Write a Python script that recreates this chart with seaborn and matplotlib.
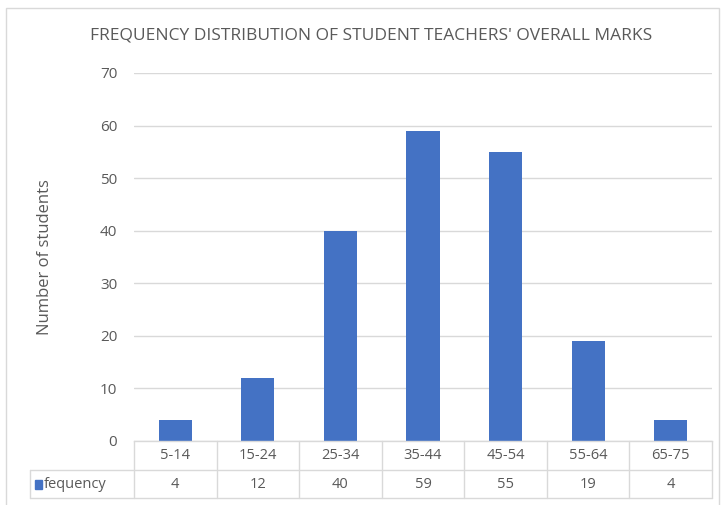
import matplotlib
matplotlib.use("Agg")
import matplotlib.pyplot as plt
import matplotlib.transforms as mtransforms
from matplotlib.patches import Rectangle
import seaborn as sns
import pandas as pd
from matplotlib import font_manager

categories = ["5-14", "15-24", "25-34", "35-44", "45-54", "55-64", "65-75"]
frequency = [4, 12, 40, 59, 55, 19, 4]
series_name = "fequency"
title = "FREQUENCY DISTRIBUTION OF STUDENT TEACHERS' OVERALL MARKS"
ylabel = "Number of students"
yticks = [0, 10, 20, 30, 40, 50, 60, 70]

sns.set_theme(style="white")
names = {f.name for f in font_manager.fontManager.ttflist}
fam = "Liberation Sans Narrow" if "Liberation Sans Narrow" in names else "Open Sans"
plt.rcParams["font.family"] = [fam, "DejaVu Sans"]

BLUE = "#4472C4"
GRID = "#D9D9D9"
TXT = "#595959"

fig = plt.figure(figsize=(7.24, 5.05), dpi=100)
W, H = 724, 505
L, R, T, B = 134, 712, 73, 441
ax = fig.add_axes([L / W, (H - B) / H, (R - L) / W, (B - T) / H])

df = pd.DataFrame({"cat": categories, "val": frequency})
sns.barplot(data=df, x="cat", y="val", color=BLUE, width=0.4, saturation=1,
            linewidth=0, edgecolor=BLUE, ax=ax)
ax.set_xlim(-0.5, len(categories) - 0.5)
ax.set_ylim(0, 70)
ax.set_yticks(yticks)
ax.set_yticklabels([str(v) for v in yticks], fontsize=11, color=TXT)
ax.tick_params(axis="y", length=0, pad=12)
ax.set_xticks([])
ax.set_xlabel("")
ax.set_ylabel("")
for s in ["top", "right", "left"]:
    ax.spines[s].set_visible(False)
ax.spines["bottom"].set_color(GRID)
ax.spines["bottom"].set_linewidth(1)
ax.yaxis.grid(True, color=GRID, linewidth=1)
ax.set_axisbelow(True)

# data table below axis
trans = mtransforms.blended_transform_factory(ax.transData, ax.transAxes)
ah = B - T
cw = (R - L) / len(categories)
r1 = -(470 - B) / ah
r2 = -(498 - B) / ah
xleft = -0.5 - (L - 30) / cw
n = len(categories)
lk = dict(color=GRID, lw=1, transform=trans, clip_on=False)
for i in range(n + 1):
    ax.plot([i - 0.5, i - 0.5], [0, r2], **lk)
ax.plot([xleft, n - 0.5], [r1, r1], **lk)
ax.plot([xleft, n - 0.5], [r2, r2], **lk)
ax.plot([xleft, xleft], [r1, r2], **lk)
for i, (c, v) in enumerate(zip(categories, frequency)):
    ax.text(i, r1 / 2, c, ha="center", va="center", fontsize=10.5, color=TXT,
            transform=trans, clip_on=False)
    ax.text(i, (r1 + r2) / 2, str(v), ha="center", va="center", fontsize=10.5,
            color=TXT, transform=trans, clip_on=False)
# legend key
fig.patches.append(Rectangle((35 / W, (H - 489) / H), 7 / W, 9 / H, color=BLUE,
                             transform=fig.transFigure, figure=fig))
fig.text(44 / W, (H - 484) / H, series_name, ha="left", va="center",
         fontsize=10.5, color=TXT)

fig.text(371 / W, (H - 36) / H, title, ha="center", va="center", fontsize=12.5,
         color=TXT)
fig.text(45 / W, (H - 257) / H, ylabel, ha="center", va="center", rotation=90,
         fontsize=12, color=TXT)

# chart border
fig.patches.append(Rectangle((6 / W, -0.01), 713 / W, (H - 8) / H + 0.01, fill=False,
                             edgecolor=GRID, lw=1, transform=fig.transFigure, figure=fig))

fig.savefig("out.png", dpi=100)
